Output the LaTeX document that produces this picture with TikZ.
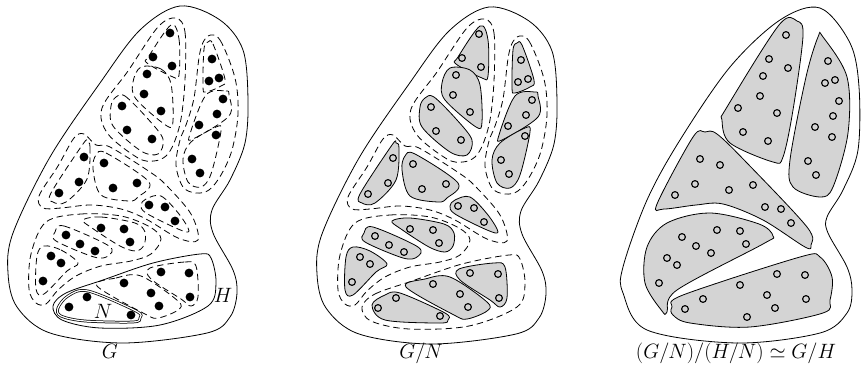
\documentclass[tikz,border=0pt]{standalone}
\tikzset{
  outl/.style={line width=0.8pt},
  dsh/.style={line width=0.8pt, dash pattern=on 6.5pt off 4pt},
  grayreg/.style={draw, line width=0.8pt, fill=black!17},
  bdot/.style={fill=black},
  odot/.style={draw, line width=1.1pt},
  lbl/.style={font=\fontsize{21}{25}\selectfont, anchor=base, inner sep=0pt},
  smo/.style={smooth cycle, tension=0.55}
}
% N-cosets (panel-1 coordinates)
\newcommand\NcA[1]{\path[#1] plot[smo] coordinates {(171,25) (179,39) (179,75) (173,77) (147,63) (149,56)};}
\newcommand\NcB[1]{\path[#1] plot[smo] coordinates {(141,67) (161,69) (171,84) (173,121) (167,126) (136,99) (133,82)};}
\newcommand\NcC[1]{\path[#1] plot[smo] coordinates {(116,97) (125,96) (148,119) (163,139) (158,154) (141,151) (113,126) (111,106)};}
\newcommand\NcD[1]{\path[#1] plot[smo] coordinates {(208,42) (213,44) (225,79) (221,86) (206,92) (203,87) (204,49)};}
\newcommand\NcE[1]{\path[#1] plot[smo] coordinates {(206,95) (226,91) (229,95) (229,116) (193,139) (190,134)};}
\newcommand\NcF[1]{\path[#1] plot[smo] coordinates {(216,127) (221,131) (211,174) (201,187) (188,182) (183,159) (191,142)};}
\newcommand\NcG[1]{\path[#1] plot[smo] coordinates {(87,142) (90,147) (87,179) (66,202) (53,202) (51,193) (83,144)};}
\newcommand\NcH[1]{\path[#1] plot[smo] coordinates {(96,155) (106,153) (149,182) (138,197) (129,201) (101,195) (93,169)};}
\newcommand\NcI[1]{\path[#1] plot[smo] coordinates {(146,199) (161,196) (179,214) (189,231) (178,229) (146,213) (141,205)};}
\newcommand\NcJ[1]{\path[#1] plot[smo] coordinates {(83,220) (101,217) (135,223) (145,232) (144,245) (136,251) (120,246) (92,228)};}
\newcommand\NcK[1]{\path[#1] plot[smo] coordinates {(55,232) (64,226) (109,246) (108,256) (94,257) (56,241)};}
\newcommand\NcL[1]{\path[#1] plot[smo] coordinates {(44,246) (61,250) (78,263) (67,271) (44,294) (36,289) (37,256)};}
\newcommand\NcM[1]{\path[#1] plot[smo] coordinates {(150,268) (185,262) (196,266) (198,297) (191,306) (181,299) (151,279)};}
\newcommand\NcN[1]{\path[#1] plot[smo] coordinates {(97,286) (116,278) (141,276) (178,301) (178,310) (158,318) (145,314)};}
\newcommand\NcO[1]{\path[#1] plot[smo] coordinates {(63,304) (76,294) (91,292) (136,312) (139,319) (131,322) (76,319)};}
\newcommand\NsubN[1]{\path[#1] plot[smo] coordinates {(58,308) (68,296) (88,291) (136,311) (140,318) (133,322) (85,321) (61,316)};}
% H-cosets (dashed contours)
\newcommand\HcA[1]{\path[#1] plot[smo] coordinates {(176,18) (185,32) (185,80) (181,119) (174,143) (166,156) (154,161) (138,158) (108,134) (102,108) (128,71) (158,27)};}
\newcommand\HcD[1]{\path[#1] plot[smo] coordinates {(208,36) (220,40) (235,78) (238,114) (232,150) (221,175) (209,190) (196,193) (183,187) (176,165) (180,140) (186,125) (194,98) (200,52)};}
\newcommand\HcG[1]{\path[#1] plot[smo] coordinates {(84,134) (96,145) (110,147) (150,172) (166,185) (191,214) (198,240) (178,238) (146,219) (121,209) (91,205) (61,208) (43,208) (39,196) (58,166) (74,138)};}
\newcommand\HcJ[1]{\path[#1] plot[smo] coordinates {(46,222) (81,214) (121,216) (150,227) (161,239) (151,254) (131,261) (101,266) (76,276) (58,290) (46,304) (36,303) (29,289) (31,254)};}
\newcommand\HcM[1]{\path[#1] plot[smo] coordinates {(53,306) (66,293) (103,280) (153,263) (200,254) (211,258) (216,283) (208,306) (160,325) (100,328) (62,320)};}
% outlines
\newcommand\OutA[1]{\path[#1] plot[smo] coordinates {(180,6) (220,20) (243,50) (248,100) (245,143) (230,180) (212,210) (213,233) (233,270) (237,293) (230,317) (207,333) (123,343) (50,333) (17,307) (8,273) (13,233) (50,157) (100,83) (140,30)};}
\newcommand\OutC[1]{\path[#1] plot[smo] coordinates {(204,6) (234,41) (243,85) (242,148) (227,188) (211,215) (212,231) (231,265) (236,288) (231,311) (204,331) (121,341) (31,328) (7,291) (7,265) (31,198) (64,138) (114,65) (164,18)};}
% panel-3 H-cosets
\newcommand\PcA[1]{\path[#1] plot[smo] coordinates {(163,23) (181,19) (187,34) (177,108) (167,155) (157,160) (114,141) (106,118) (111,105)};}
\newcommand\PcB[1]{\path[#1] plot[smo] coordinates {(202,35) (207,35) (231,75) (232,131) (217,185) (204,195) (177,185) (174,158) (190,75)};}
\newcommand\PcC[1]{\path[#1] plot[smo] coordinates {(89,130) (101,132) (131,161) (191,225) (195,243) (189,245) (147,218) (107,202) (80,203) (48,207) (41,202) (77,135)};}
\newcommand\PcD[1]{\path[#1] plot[smo] coordinates {(51,221) (94,211) (143,222) (157,234) (147,242) (61,288) (51,310) (46,309) (29,281) (31,245)};}
\newcommand\PcE[1]{\path[#1] plot[smo] coordinates {(56,305) (67,293) (184,255) (204,255) (216,275) (214,298) (207,311) (134,325) (74,321) (57,313)};}
\def\dotlist{170/33,153/57,172/66,147/74,144/94,212/59,209/81,219/78,223/99,217/114,199/125,216/135,122/106,161/111,127/130,152/139,192/159,200/173,84/157,104/163,79/182,59/193,113/188,137/183,149/205,165/207,175/221,66/235,80/244,95/251,101/228,124/229,130/242,51/256,61/263,43/281,69/307,87/297,131/315,124/283,161/272,189/273,151/293,159/306,190/297}
\begin{document}
\begin{tikzpicture}[x=1pt,y=-1pt]
\useasboundingbox (0,0) rectangle (863,369);
% ---------- panel 1 : G
\begin{scope}
  \OutA{draw,outl}
  \HcA{draw,dsh}\HcD{draw,dsh}\HcG{draw,dsh}\HcJ{draw,dsh}
  \HcM{draw,outl}
  \NcA{draw,dsh}\NcB{draw,dsh}\NcC{draw,dsh}\NcD{draw,dsh}\NcE{draw,dsh}
  \NcF{draw,dsh}\NcG{draw,dsh}\NcH{draw,dsh}\NcI{draw,dsh}\NcJ{draw,dsh}
  \NcK{draw,dsh}\NcL{draw,dsh}\NcM{draw,dsh}\NcN{draw,dsh}
  \NsubN{draw,line width=0.75pt,double,double distance=1.2pt}
  \foreach \px/\py in \dotlist {\fill[bdot] (\px,\py) circle (4.4);}
  \node[lbl] (lN) at (103,318) {$N$};
  \node[lbl] (lH) at (223,302) {$H$};
\end{scope}
% ---------- panel 2 : G/N
\begin{scope}[shift={(309,1)}]
  \OutA{draw,outl}
  \HcA{draw,dsh}\HcD{draw,dsh}\HcG{draw,dsh}\HcJ{draw,dsh}\HcM{draw,dsh}
  \NcA{grayreg}\NcB{grayreg}\NcC{grayreg}\NcD{grayreg}\NcE{grayreg}
  \NcF{grayreg}\NcG{grayreg}\NcH{grayreg}\NcI{grayreg}\NcJ{grayreg}
  \NcK{grayreg}\NcL{grayreg}\NcM{grayreg}\NcN{grayreg}\NcO{grayreg}
  \foreach \px/\py in \dotlist {\draw[odot] (\px,\py) circle (3.4);}
\end{scope}
% ---------- panel 3 : G/H
\begin{scope}[shift={(616,2)}]
  \OutC{draw,outl}
  \PcA{grayreg}\PcB{grayreg}\PcC{grayreg}\PcD{grayreg}\PcE{grayreg}
  \foreach \px/\py in \dotlist {\draw[odot] (\px,\py) circle (3.4);}
\end{scope}
\node[lbl] (lG) at (110,358) {$G$};
\node[lbl] (lGN) at (421,358) {$G/N$};
\node[lbl] (lGH) at (736,358) {$(G/N)/(H/N)\simeq G/H$};
\end{tikzpicture}
\end{document}
